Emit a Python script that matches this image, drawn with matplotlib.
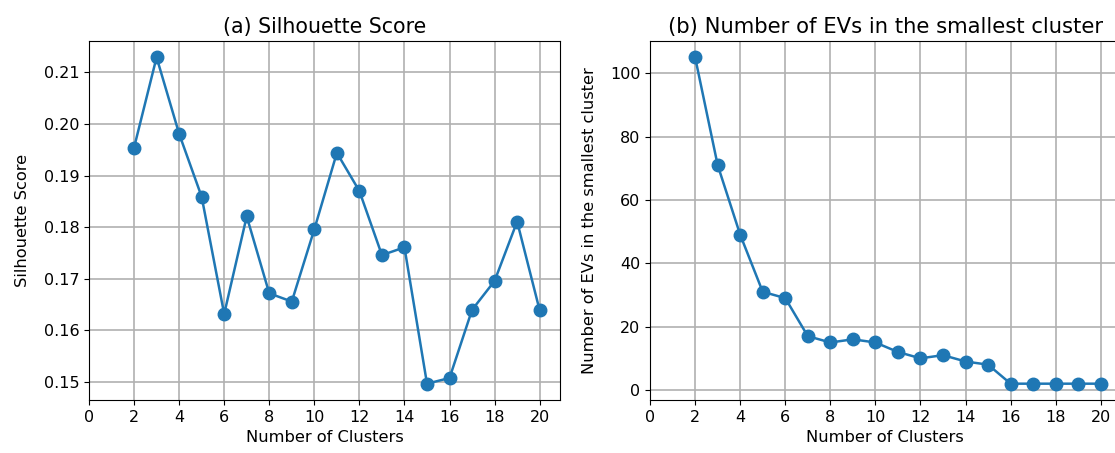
import matplotlib
matplotlib.use('Agg')
import matplotlib.pyplot as plt

clusters = list(range(2, 21))
silhouette = [0.1954, 0.2129, 0.1981, 0.1859, 0.1632, 0.1821, 0.1672, 0.1656, 0.1796,
              0.1944, 0.1870, 0.1746, 0.1761, 0.1497, 0.1508, 0.1640, 0.1696, 0.1811, 0.1639]
smallest = [105, 71, 49, 31, 29, 17, 15, 16, 15, 12, 10, 11, 9, 8, 2, 2, 2, 2, 2]
xticks = list(range(0, 21, 2))

fig = plt.figure(figsize=(11.15, 4.53), dpi=100)
ax1 = fig.add_axes([0.0798, 0.117, 0.4224, 0.7925])
# right panel runs past the figure edge (reference is cropped there)
ax2 = fig.add_axes([0.583, 0.117, 0.4305, 0.7925])

ax1.plot(clusters, silhouette, marker='o', color='#1f77b4', lw=1.8, markersize=9)
ax1.set_xlim(0, 20.9)
ax1.set_xticks(xticks)
ax1.set_xlabel('Number of Clusters', fontsize=11.7)
ax1.set_ylabel('Silhouette Score', fontsize=11.7, labelpad=10)
ax1.set_title('(a) Silhouette Score', fontsize=14.8)
ax1.grid(True, lw=1.2)
ax1.tick_params(labelsize=11.5)

ax2.plot(clusters, smallest, marker='o', color='#1f77b4', lw=1.8, markersize=9)
ax2.set_xlim(0, 21.3)
ax2.set_xticks(xticks)
ax2.set_xlabel('Number of Clusters', fontsize=11.7, x=0.49)
ax2.set_ylabel('Number of EVs in the smallest cluster', fontsize=11.7, labelpad=9)
ax2.set_title('(b) Number of EVs in the smallest cluster', fontsize=15.2, x=0.49)
ax2.grid(True, lw=1.2)
ax2.tick_params(labelsize=11.5)

fig.savefig('out.png', dpi=100)
